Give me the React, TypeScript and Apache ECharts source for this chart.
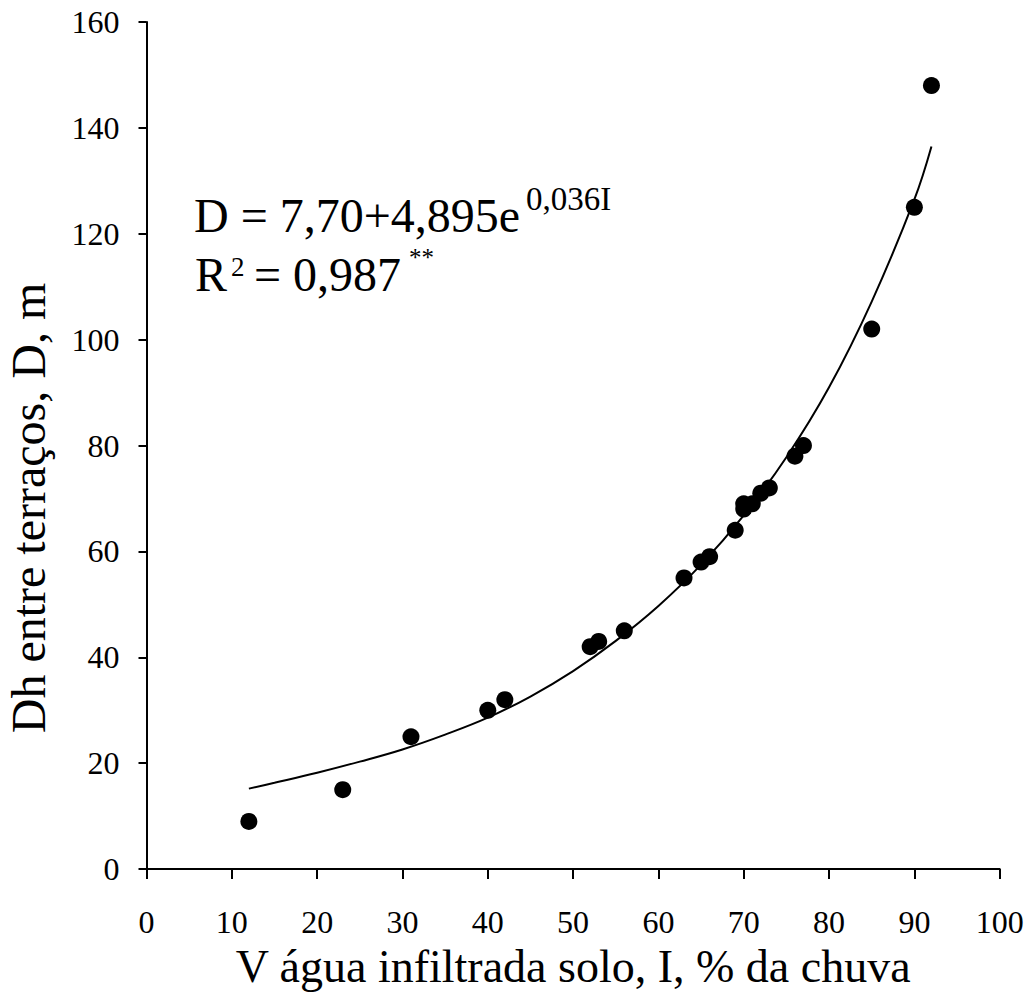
import React, { useEffect, useRef } from "react";
import * as echarts from "echarts";

const infiltration = [12, 23, 31, 40, 42, 52, 53, 56, 63, 65, 66, 69, 70, 70, 71, 72, 73, 76, 77, 85, 90, 92];
const distance = [9, 15, 25, 30, 32, 42, 43, 45, 55, 58, 59, 64, 68, 69, 69, 71, 72, 78, 80, 102, 125, 148];

const trendX = [12, 15, 20, 25, 30, 35, 40, 45, 50, 55, 60, 65, 70, 75, 80, 85, 90, 92];
const trendY = [15.2, 16.3, 18.2, 20.3, 22.6, 25.4, 28.6, 32.6, 37.4, 43.1, 49.7, 57.5, 66.8, 77.8, 91.0, 107.2, 126.5, 136.5];

const xTicks = [0, 10, 20, 30, 40, 50, 60, 70, 80, 90, 100];
const yTicks = [0, 20, 40, 60, 80, 100, 120, 140, 160];

const xTitle = "V água infiltrada solo, I, % da chuva";
const yTitle = "Dh entre terraços, D, m";

const FONT = "Liberation Serif";

function txt(text: string, x: number, y: number, size: number, extra: any = {}) {
  return {
    type: "text",
    x,
    y,
    ...extra,
    style: {
      text,
      fontFamily: FONT,
      fontSize: size,
      fill: "#000",
      textAlign: "left",
      textVerticalAlign: "middle",
      ...(extra.style || {}),
    },
  };
}

export default function App() {
  const ref = useRef<HTMLDivElement>(null);
  useEffect(() => {
    document.body.style.margin = "0";
    const chart = echarts.init(ref.current!, null, { renderer: "svg" });
    const scatterData = infiltration.map((x, i) => [x, distance[i]]);
    const trendData = trendX.map((x, i) => [x, trendY[i]]);
    chart.setOption({
      animation: false,
      backgroundColor: "#fff",
      textStyle: { fontFamily: FONT, color: "#000" },
      grid: { left: 146.5, right: 32.3, top: 22, bottom: 121, containLabel: false },
      xAxis: {
        type: "value",
        min: xTicks[0],
        max: xTicks[xTicks.length - 1],
        interval: 10,
        name: xTitle,
        nameLocation: "middle",
        nameGap: 72,
        nameTextStyle: { fontFamily: FONT, fontSize: 46, color: "#000" },
        axisLine: { show: true, lineStyle: { color: "#000", width: 2 } },
        axisTick: { show: true, inside: false, length: 10, lineStyle: { color: "#000", width: 2 } },
        axisLabel: { fontFamily: FONT, fontSize: 32, color: "#000", margin: 37 },
        splitLine: { show: false },
      },
      yAxis: {
        type: "value",
        min: yTicks[0],
        max: yTicks[yTicks.length - 1],
        interval: 20,
        axisLine: { show: true, onZero: false, lineStyle: { color: "#000", width: 2 } },
        axisTick: { show: true, inside: false, length: 8, lineStyle: { color: "#000", width: 2 } },
        axisLabel: { fontFamily: FONT, fontSize: 32, color: "#000", margin: 27 },
        splitLine: { show: false },
      },
      series: [
        {
          type: "line",
          data: trendData,
          smooth: 0.4,
          showSymbol: false,
          lineStyle: { color: "#000", width: 2 },
          z: 2,
        },
        {
          type: "scatter",
          data: scatterData,
          symbol: "circle",
          symbolSize: 17,
          itemStyle: { color: "#000", opacity: 1 },
          z: 3,
        },
      ],
      graphic: [
        txt(yTitle, 28, 508, 48, { rotation: Math.PI / 2, style: { textAlign: "center" } }),
        txt("D = 7,70+4,895e", 194, 215, 48),
        txt("0,036I", 526, 199, 33),
        txt("R", 195, 274, 48),
        txt("2", 231, 267, 27),
        txt("= 0,987", 254, 274, 48),
        txt("**", 409, 257, 25),
      ],
    });
    return () => chart.dispose();
  }, []);
  return <div ref={ref} style={{ width: 1032, height: 994 }} />;
}
